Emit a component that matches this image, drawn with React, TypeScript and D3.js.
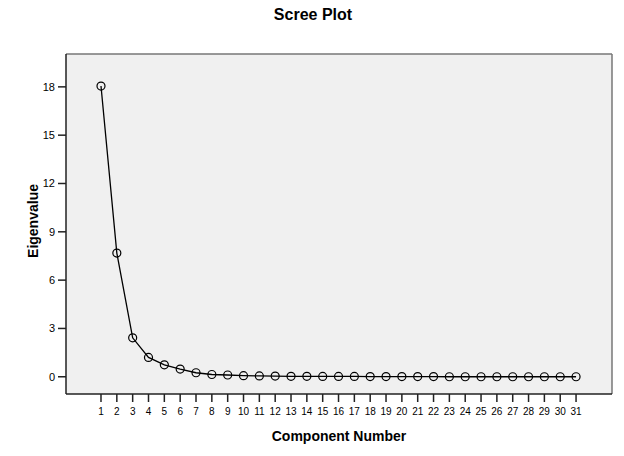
import React from "react";
import * as d3 from "d3";

const components: number[] = Array.from({ length: 31 }, (_, i) => i + 1);
const eigenvalues: number[] = [
  18.05, 7.68, 2.42, 1.2, 0.74, 0.48, 0.25, 0.14, 0.11, 0.07, 0.05, 0.04, 0.03,
  0.03, 0.02, 0.02, 0.02, 0.01, 0.01, 0.01, 0.01, 0.01, 0.0, 0.0, 0.0, 0.0, 0.0,
  0.0, 0.0, 0.0, 0.0,
];
const yTicks: number[] = [0, 3, 6, 9, 12, 15, 18];
const title = "Scree Plot";
const xTitle = "Component Number";
const yTitle = "Eigenvalue";

const W = 624;
const H = 456;
const left = 66;
const right = 612;
const top = 54;
const bottom = 394;
const font = "Liberation Sans, Arial, sans-serif";

export default function App() {
  const x = d3.scaleLinear().domain([-1.21, 33.27]).range([left, right]);
  const y = d3.scaleLinear().domain([-1.07, 20.04]).range([bottom, top]);
  const line = d3
    .line<number>()
    .x((_, i) => x(components[i]))
    .y((d) => y(d));

  return (
    <svg
      width={W}
      height={H}
      style={{ position: "absolute", left: 0, top: 0, background: "#fff" }}
    >
      <text
        x={313}
        y={20}
        textAnchor="middle"
        fontFamily={font}
        fontWeight="bold"
        fontSize={16}
      >
        {title}
      </text>
      <rect
        x={left}
        y={top}
        width={right - left}
        height={bottom - top}
        fill="#f0f0f0"
        stroke="none"
      />
      <line x1={left} y1={top} x2={right} y2={top} stroke="#777" strokeWidth={1.5} />
      <line x1={right} y1={top} x2={right} y2={bottom} stroke="#777" strokeWidth={1.5} />
      <line x1={left} y1={top} x2={left} y2={bottom} stroke="#222" strokeWidth={1.5} />
      <line x1={left} y1={bottom} x2={right} y2={bottom} stroke="#222" strokeWidth={1.5} />

      {yTicks.map((t) => (
        <g key={t}>
          <line x1={left - 8} x2={left} y1={y(t)} y2={y(t)} stroke="#222" strokeWidth={1.5} />
          <text
            x={left - 11}
            y={y(t) + 4}
            textAnchor="end"
            fontFamily={font}
            fontSize={11}
          >
            {t}
          </text>
        </g>
      ))}
      {components.map((c) => (
        <g key={c}>
          <line x1={x(c)} x2={x(c)} y1={bottom} y2={bottom + 8} stroke="#222" strokeWidth={1.5} />
          <text
            x={x(c)}
            y={bottom + 21}
            textAnchor="middle"
            fontFamily={font}
            fontSize={10}
          >
            {c}
          </text>
        </g>
      ))}

      <path d={line(eigenvalues) || ""} fill="none" stroke="#000" strokeWidth={1.3} />
      {eigenvalues.map((v, i) => (
        <circle
          key={i}
          cx={x(components[i])}
          cy={y(v)}
          r={4}
          fill="none"
          stroke="#000"
          strokeWidth={1.2}
        />
      ))}

      <text
        x={(left + right) / 2}
        y={441}
        textAnchor="middle"
        fontFamily={font}
        fontWeight="bold"
        fontSize={14}
      >
        {xTitle}
      </text>
      <text
        transform={`translate(${38},${221}) rotate(-90)`}
        textAnchor="middle"
        fontFamily={font}
        fontWeight="bold"
        fontSize={14}
      >
        {yTitle}
      </text>
    </svg>
  );
}
